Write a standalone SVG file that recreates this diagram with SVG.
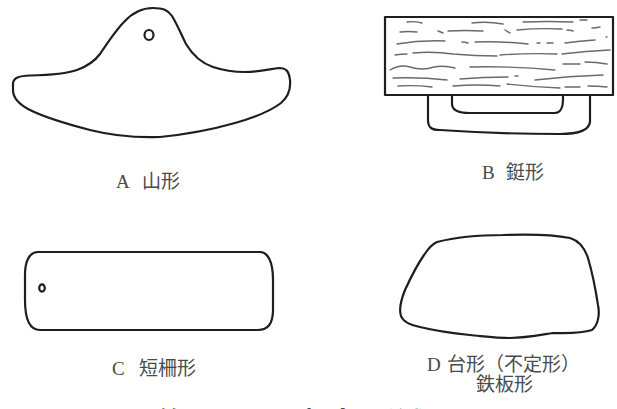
<svg xmlns="http://www.w3.org/2000/svg" width="617" height="409" viewBox="0 0 617 409">
  <style>
    .outline { fill: none; stroke: #1e1e1e; stroke-width: 2.2; stroke-linejoin: round; stroke-linecap: round; }
    .grain { fill: none; stroke: #6a6a6a; stroke-width: 1.4; stroke-linecap: round; }
    .label { font-family: "Liberation Serif", "Noto Sans CJK JP", serif; font-size: 19px; fill: #4a4a4a; }
    .caption { font-family: "Noto Sans CJK JP", sans-serif; font-size: 26px; font-weight: bold; fill: #222; }
  </style>
  <rect width="617" height="409" fill="#ffffff"/>

  <!-- A: mountain shape -->
  <g id="shape-a">
    <path class="outline" d="M13,83 C14,77 20,76 30,75.5 C50,75 66,74 77,70 C88,66 94,62 100,54 C108,42 116,30 124,22 C133,12 142,8 153,8 C163,8 168,10 172,16 C177,24 180,32 186,44 C192,54 201,63 213,67 C225,71 233,72 245,72 C260,72 270,69 279,68 C286,68 289,71 290,80 C291,90 288,97 281,103 C272,110 256,117 235,123 C214,129 190,134 160,137 C135,138 110,135 90,130 C67,124 46,118 30,110 C18,104 13,97 13,90 Z"/>
    <ellipse class="outline" cx="149" cy="35" rx="4.5" ry="5"/>
    <text class="label" x="116" y="188">A <tspan x="142">山形</tspan></text>
  </g>

  <!-- B: ingot shape with wooden grip -->
  <g id="shape-b">
    <path class="outline" d="M428,95 L428,120 C428,128 432,130 440,130 C470,132 510,134 560,134 C580,134 589,130 590,122 L590,95"/>
    <path class="outline" d="M452,95 L452,104 C452,110 458,113 470,113 L555,113 C560,113 563,108 563,100 L563,95"/>
    <rect class="outline" x="385" y="17" width="228" height="78"/>
    <g class="grain">
      <path d="M407,22 q7,-1 15,1"/>
      <path d="M472,23 q15,-2 31,1"/>
      <path d="M523,22 q25,-1 50,0"/>
      <path d="M580,20 q4,0 7,0"/>
      <path d="M400,32 q8,-1 17,0"/>
      <path d="M438,31 q3,1 5,2"/>
      <path d="M448,31 q17,-1 35,0"/>
      <path d="M505,30 q3,2 5,3"/>
      <path d="M517,30 q22,-2 45,-1"/>
      <path d="M567,30 q3,0 6,1"/>
      <path d="M592,28 q4,0 8,-1"/>
      <path d="M397,44 q24,-4 48,-3"/>
      <path d="M462,42 q3,0 6,1"/>
      <path d="M475,42 q26,-1 53,2"/>
      <path d="M537,43 l3,0"/>
      <path d="M547,43 l6,0"/>
      <path d="M565,43 q15,-2 30,-3"/>
      <path d="M606,37 l1,0"/>
      <path d="M395,55 q6,-1 12,-1"/>
      <path d="M413,53 q20,-2 40,1 q22,2 44,2"/>
      <path d="M500,55 q28,-2 57,-1"/>
      <path d="M562,54 q24,-3 48,-4"/>
      <path d="M390,70 q10,-6 20,-3 q12,4 24,0 q10,-2 21,1"/>
      <path d="M470,67 q42,-1 85,3"/>
      <path d="M563,64 q8,0 17,0"/>
      <path d="M585,62 q11,0 22,2"/>
      <path d="M393,78 q27,-1 54,2"/>
      <path d="M460,79 q24,-2 48,-2"/>
      <path d="M515,76 l3,0"/>
      <path d="M535,80 q34,-4 68,-5"/>
      <path d="M398,86 q17,-1 34,1"/>
      <path d="M453,86 q24,-2 47,0"/>
      <path d="M507,84 q26,3 53,4"/>
      <path d="M565,87 l15,0"/>
      <path d="M588,86 q10,0 19,1"/>
    </g>
    <text class="label" x="482" y="179">B <tspan x="506">鋌形</tspan></text>
  </g>

  <!-- C: short strip shape -->
  <g id="shape-c">
    <path class="outline" d="M38,252 L260,252 C268,252 273,262 273,280 L273,310 C273,324 268,330 258,330 L40,330 C30,330 25,320 25,300 L25,275 C25,260 30,252 38,252 Z"/>
    <ellipse class="outline" cx="42" cy="288" rx="2.8" ry="3.6"/>
    <text class="label" x="112" y="375">C <tspan x="139">短柵形</tspan></text>
  </g>

  <!-- D: trapezoid (irregular) / iron plate shape -->
  <g id="shape-d">
    <path class="outline" d="M437,242 C460,236 480,235 503,235 C530,234 555,235 570,238 C580,241 585,249 588,258 C593,275 596,292 598,305 C600,315 598,325 592,330 C580,334 565,333 553,333 C540,335 525,338 510,338 C495,338 482,336 470,335 C450,333 432,330 420,327 C410,325 403,322 401,316 C399,310 401,300 405,290 C411,277 417,265 424,255 C428,249 432,244 437,242 Z"/>
    <text class="label" x="427" y="371">D <tspan x="447">台形（不定形）</tspan></text>
    <text class="label" x="476" y="391">鉄板形</text>
  </g>

  <!-- figure title, running off the lower edge -->
  <g id="caption">
    <text class="caption" y="431"><tspan x="158">第</tspan><tspan x="187">3</tspan><tspan x="216">図</tspan><tspan x="276">火</tspan><tspan x="303">打</tspan><tspan x="330">金</tspan><tspan x="355">の</tspan><tspan x="383">分</tspan><tspan x="410">類</tspan></text>
  </g>
</svg>
